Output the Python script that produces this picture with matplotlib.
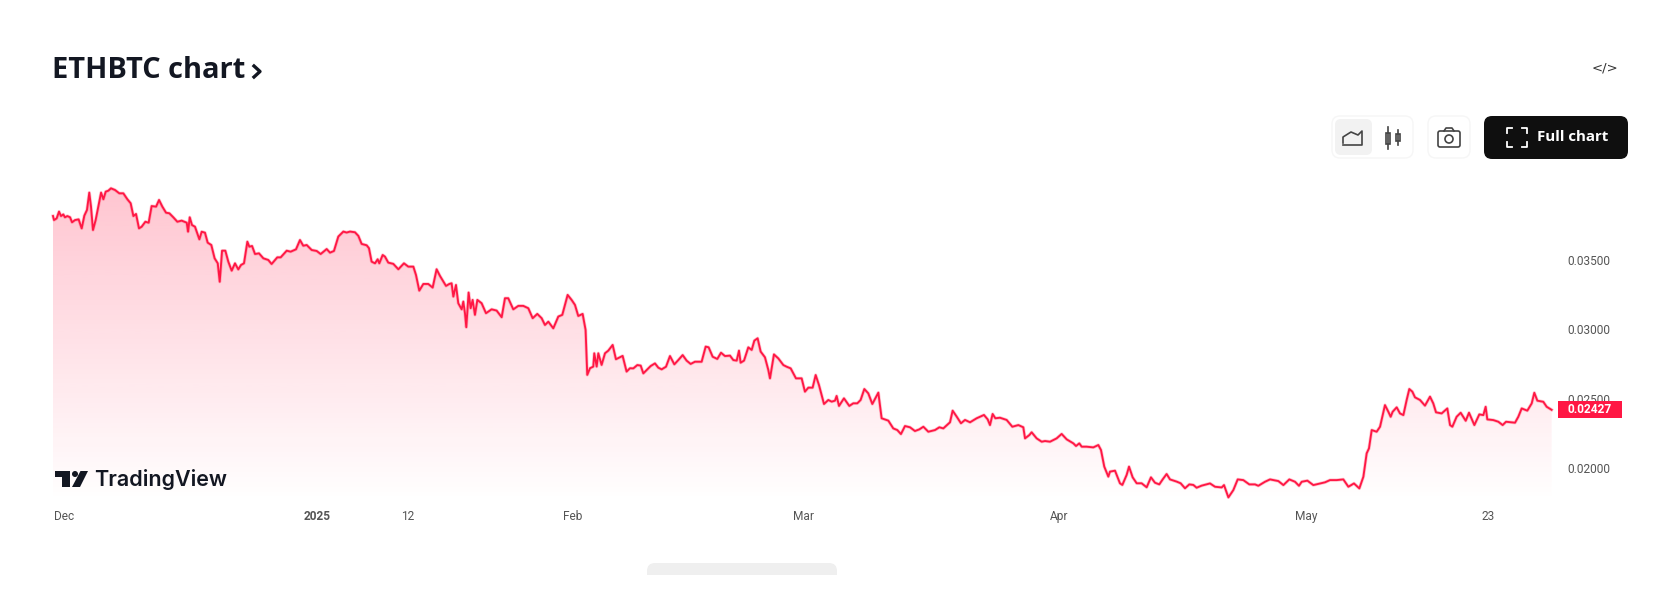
import numpy as np
import matplotlib
matplotlib.use("Agg")
import matplotlib.pyplot as plt
from matplotlib.patches import FancyBboxPatch, Rectangle, Polygon, Circle
from matplotlib.transforms import ScaledTranslation

# days since 30 Nov 2024
days_a = [0, .12, .44, .73, .97, 1.25, 1.45, 1.74, 2.07, 2.31, 2.67, 3.11, 3.48, 3.80, 4.12, 4.40, 4.61, 4.85, 5.17, 5.50, 5.83, 6.11, 6.39, 6.71, 7.03, 7.52, 8.04, 8.53, 9.02, 9.42, 9.75, 10.07, 10.43, 10.75, 11.20, 11.60, 11.96, 12.50, 12.86, 13.26, 13.71, 14.11, 14.59, 15.08, 15.60, 16.22, 16.38, 16.58, 16.86, 17.22, 17.75, 18.03, 18.43, 18.76, 19.20, 19.60, 19.98, 20.22, 20.50, 20.90, 21.26, 21.67, 22.07, 22.47, 22.80, 23.16, 23.57, 23.81, 24.14, 24.50, 24.98, 25.51, 26.11, 26.51, 27.20, 27.61, 28.34, 28.82, 29.47, 29.95, 30.35, 30.77, 31.37, 31.98, 32.46, 33.19, 33.59, 34.07]
price_a = [3825, 3796, 3808, 3857, 3825, 3837, 3816, 3825, 3816, 3780, 3796, 3801, 3736, 3828, 3869, 3994, 3893, 3724, 3796, 3893, 3994, 3946, 4001, 4008, 4025, 4013, 3989, 3989, 3946, 3917, 3825, 3840, 3736, 3748, 3784, 3777, 3897, 3893, 3941, 3893, 3849, 3845, 3816, 3784, 3792, 3777, 3712, 3816, 3760, 3748, 3657, 3712, 3705, 3633, 3616, 3520, 3484, 3351, 3575, 3575, 3496, 3431, 3484, 3440, 3472, 3484, 3640, 3604, 3609, 3551, 3556, 3520, 3508, 3479, 3527, 3527, 3575, 3568, 3585, 3652, 3611, 3616, 3580, 3573, 3551, 3587, 3561, 3573]

days_b = [34.60, 35.21, 35.61, 36.02, 36.62, 37.03, 37.43, 38.04, 38.32, 38.64, 39.05, 39.37, 39.57, 39.98, 40.26, 40.66, 41.27, 41.88, 42.56, 43.09, 43.70, 44.02, 44.42, 44.91, 45.51, 46.04, 46.52, 46.93, 47.66, 48.06, 48.34, 48.55, 48.87, 49.15, 49.56, 49.76, 49.96, 50.12, 50.40, 50.65, 50.89, 51.17, 51.46, 51.98, 52.51, 53.19, 53.80, 54.41, 54.81, 55.21, 55.82, 56.43, 57.03, 57.64, 58.17, 58.73, 59.26, 59.66, 60.07, 60.67, 61.28, 61.76, 62.41, 62.89, 63.30, 63.70, 64.23, 64.59, 64.79, 65.12, 65.52, 65.64, 65.93, 66.13, 66.53, 66.94, 67.34, 67.87, 68.27, 69.08, 69.56, 69.97]
price_b = [3677, 3713, 3706, 3713, 3708, 3682, 3624, 3614, 3593, 3496, 3484, 3513, 3484, 3544, 3532, 3489, 3480, 3441, 3484, 3460, 3460, 3400, 3287, 3335, 3335, 3309, 3441, 3393, 3321, 3335, 3340, 3244, 3328, 3196, 3152, 3208, 3124, 3023, 3273, 3160, 3220, 3112, 3220, 3196, 3124, 3152, 3143, 3095, 3232, 3232, 3152, 3177, 3177, 3160, 3088, 3119, 3088, 3039, 3063, 3015, 3100, 3112, 3256, 3220, 3184, 3104, 3119, 3003, 2679, 2727, 2739, 2835, 2739, 2835, 2751, 2835, 2854, 2895, 2792, 2816, 2703, 2727]

days_c = [70.38, 70.86, 71.27, 71.59, 71.99, 72.48, 73.0, 73.41, 73.81, 74.34, 74.82, 75.35, 75.83, 76.36, 76.84, 77.33, 77.85, 78.66, 79.15, 79.51, 80.0, 80.56, 81.01, 81.49, 82.1, 82.5, 82.91, 83.19, 83.39, 83.8, 84.32, 84.73, 85.05, 85.45, 85.82, 86.34, 86.75, 86.95, 87.43, 87.96, 88.57, 88.97, 89.46, 90.1, 90.79, 91.19, 91.6, 92.12, 92.49, 92.89, 93.5, 94.02, 94.43, 94.83, 95.03, 95.32, 95.92, 96.57, 97.05, 97.54, 97.94, 98.39, 98.87, 99.36, 100.09, 100.49, 100.89, 101.3, 101.9, 102.39, 102.83, 103.32, 103.93, 104.53]
price_c = [2726, 2750, 2746, 2690, 2714, 2743, 2762, 2731, 2719, 2738, 2815, 2755, 2786, 2822, 2782, 2758, 2774, 2774, 2883, 2878, 2810, 2794, 2839, 2815, 2818, 2786, 2782, 2854, 2767, 2782, 2878, 2859, 2926, 2943, 2847, 2806, 2714, 2654, 2827, 2798, 2750, 2738, 2726, 2654, 2654, 2558, 2587, 2587, 2678, 2606, 2469, 2498, 2486, 2493, 2527, 2455, 2510, 2455, 2474, 2474, 2498, 2577, 2546, 2469, 2551, 2366, 2358, 2349, 2293, 2281, 2252, 2310, 2301, 2274]

days_d = [105.06, 105.55, 106.15, 106.96, 107.49, 107.97, 108.78, 109.1, 109.59, 110.11, 110.6, 111.21, 112.01, 112.9, 113.35, 113.63, 113.95, 114.28, 114.84, 115.65, 116.34, 117.07, 117.67, 117.88, 118.4, 118.68, 119.29, 119.9, 120.3, 120.91, 121.71, 122.32, 122.93, 123.74, 124.06, 124.46, 124.75, 125.35, 126.16, 126.77, 127.09, 127.49, 127.98, 128.18, 128.79, 129.39, 129.68, 130.2, 130.49, 130.93, 131.42, 132.02, 132.63, 133.15, 133.64, 134.16, 134.57, 135.05, 135.46, 136.27, 136.75, 137.28, 137.8, 138.29, 138.69, 139.3]
price_d = [2286, 2305, 2269, 2281, 2301, 2293, 2337, 2421, 2378, 2330, 2354, 2337, 2366, 2390, 2358, 2317, 2397, 2366, 2370, 2354, 2305, 2317, 2301, 2221, 2245, 2265, 2221, 2197, 2202, 2197, 2221, 2253, 2214, 2185, 2166, 2185, 2161, 2161, 2156, 2173, 2137, 2017, 1945, 1981, 1988, 1897, 1885, 1957, 2017, 1940, 1897, 1897, 1868, 1940, 1901, 1889, 1925, 1964, 1925, 1909, 1897, 1861, 1889, 1885, 1865, 1880]

days_e = [140.31, 140.92, 141.73, 142.01, 142.54, 143.14, 143.67, 144.35, 145.08, 145.77, 146.17, 146.98, 147.59, 148.6, 149.21, 149.93, 150.62, 151.1, 151.43, 152.12, 152.84, 154.26, 154.86, 155.67, 156.48, 157.09, 157.77, 158.42, 158.91, 159.31, 159.59, 159.92, 160.52, 160.93, 161.53, 161.94, 162.22, 162.46, 162.95, 163.35, 163.76, 164.16, 164.48, 164.85, 165.17, 165.78, 166.38, 166.99, 167.39, 167.72, 168.4, 169.09, 169.42, 169.7, 170.22, 170.71, 171.32, 171.72, 172.37, 172.97, 173.46, 173.74, 173.94, 174.67, 175.28, 175.8, 176.21, 177.3, 177.7, 178.11, 178.79, 179.32, 179.64, 180.01, 180.73, 181.14, 181.74]
price_e = [1896, 1872, 1867, 1884, 1795, 1848, 1925, 1920, 1889, 1889, 1879, 1908, 1925, 1913, 1884, 1925, 1908, 1879, 1908, 1916, 1884, 1904, 1920, 1920, 1925, 1872, 1896, 1860, 1944, 2113, 2149, 2281, 2269, 2305, 2461, 2413, 2377, 2413, 2445, 2401, 2389, 2498, 2577, 2558, 2517, 2498, 2457, 2522, 2473, 2409, 2401, 2437, 2317, 2305, 2377, 2406, 2348, 2406, 2317, 2394, 2389, 2449, 2358, 2353, 2341, 2317, 2341, 2334, 2377, 2437, 2421, 2473, 2550, 2493, 2485, 2449, 2427]

x_tick_days = [1.3, 32, 43, 63, 91, 122, 152, 174]
x_tick_labels = ["Dec", "2025", "12", "Feb", "Mar", "Apr", "May", "23"]
y_ticks = [0.035, 0.030, 0.025, 0.020]
y_tick_labels = ["0.03500", "0.03000", "0.02500", "0.02000"]
last_price_label = "0.02427"

W, H = 1664, 610
LINE = "#FF1744"
days = np.array(days_a + days_b + days_c + days_d + days_e)
prices = np.array(price_a + price_b + price_c + price_d + price_e) / 1e5

fig = plt.figure(figsize=(W / 100, H / 100), dpi=100, facecolor="white")
L, R, T, B = 53, 1556, 175, 502
ax = fig.add_axes([L / W, 1 - B / H, (R - L) / W, (B - T) / H])
ax.set_facecolor("none")
xlim = (0, 182.27)
ylim = (0.01762, 0.04121)

# gradient area
grad = np.zeros((256, 1, 4))
grad[..., :3] = matplotlib.colors.to_rgb(LINE)
grad[..., 3] = np.linspace(0.26, 0.0, 256)[:, None]
im = ax.imshow(grad, extent=(xlim[0], xlim[1], ylim[0], ylim[1]), aspect="auto",
               origin="upper", zorder=1, interpolation="bilinear")
poly = Polygon(np.column_stack([np.r_[days[0], days, days[-1]],
                                np.r_[ylim[0], prices, ylim[0]]]),
               closed=True, transform=ax.transData, facecolor="none", edgecolor="none")
ax.add_patch(poly)
im.set_clip_path(poly)
# soft halo + core reproduce the slightly blurred line of the screenshot
ax.plot(days, prices, color=LINE, lw=2.4, alpha=0.25, solid_joinstyle="round", zorder=2, clip_on=False)
ax.plot(days, prices, color=LINE, lw=1.35, solid_joinstyle="round", zorder=3, clip_on=False)
ax.set_xlim(xlim)
ax.set_ylim(ylim)

for s in ax.spines.values():
    s.set_visible(False)
ax.yaxis.tick_right()
ax.set_yticks(y_ticks, y_tick_labels, fontfamily="Roboto", fontsize=8.6, color="#555555")
ax.set_xticks(x_tick_days, x_tick_labels, fontfamily="Roboto", fontsize=8.6, color="#555555")
ax.tick_params(axis="both", length=0)
ax.tick_params(axis="y", pad=8)
ax.tick_params(axis="x", pad=6)
ax.get_xticklabels()[1].set_fontweight("bold")
for lab in ax.get_yticklabels():
    lab.set_transform(lab.get_transform() + ScaledTranslation(0, 1 / 100, fig.dpi_scale_trans))

# last price tag
tr = ax.get_yaxis_transform()
tag_x0 = (1558 - L) / (R - L)
tag_w = 64 / (R - L)
tag_h = 17 * (ylim[1] - ylim[0]) / (B - T)
ax.add_patch(Rectangle((tag_x0, prices[-1] - tag_h / 2), tag_w, tag_h, transform=tr,
                       facecolor="#FF1744", edgecolor="none", clip_on=False, zorder=5))
ax.text(tag_x0 + tag_w / 2, prices[-1], last_price_label, transform=tr, color="white",
        ha="center", va="center", fontfamily="Roboto", fontsize=8.6, fontweight="bold",
        clip_on=False, zorder=6)

# page chrome in pixel coordinates
ui = fig.add_axes([0, 0, 1, 1], zorder=10)
ui.set_xlim(0, W)
ui.set_ylim(H, 0)
ui.axis("off")
ui.patch.set_alpha(0)

ui.text(52, 78, "ETHBTC chart", fontfamily="Open Sans", fontweight="bold", fontsize=20.9,
        color="#131722", va="baseline", ha="left")
ui.plot([254, 260, 254], [66, 71.5, 77], color="#131722", lw=2.4)
ui.text(1605, 68, "</>", fontfamily="DejaVu Sans", fontsize=9.5, color="#333333", ha="center", va="center")


def box(x0, y0, x1, y1, r, fc, ec="none", lw=1):
    ui.add_patch(FancyBboxPatch((x0 + r, y0 + r), x1 - x0 - 2 * r, y1 - y0 - 2 * r,
                                boxstyle=f"round,pad={r},rounding_size={r}",
                                facecolor=fc, edgecolor=ec, lw=lw))


box(1332, 116, 1413, 158, 8, "white", "#f6f6f6", 1)
box(1335, 119, 1372, 155, 6, "#f2f2f2")
box(1428, 116, 1470, 158, 8, "white", "#f6f6f6", 1)
box(1484, 116, 1628, 159, 8, "#0f0f0f")
ui.text(1573, 137, "Full chart", color="white", fontfamily="Open Sans", fontweight="bold",
        fontsize=10.8, ha="center", va="center")

ic = "#444444"
# area icon
ui.plot([1343, 1343, 1351, 1358, 1362, 1362, 1343],
        [143, 137, 132, 135, 131, 145, 145], color=ic, lw=1.2)
# candle icon
ui.add_patch(Rectangle((1386, 133), 4, 11, facecolor="none", edgecolor=ic, lw=1.2))
ui.plot([1388, 1388], [127, 149], color=ic, lw=1.2)
ui.add_patch(Rectangle((1396, 134), 4, 7, facecolor="none", edgecolor=ic, lw=1.2))
ui.plot([1398, 1398], [130, 145], color=ic, lw=1.2)
# camera icon
box(1438, 131, 1460, 147, 2, "none", ic, 1.2)
ui.plot([1444, 1446, 1452, 1454], [131, 128, 128, 131], color=ic, lw=1.2)
ui.add_patch(Circle((1449, 139), 4, facecolor="none", edgecolor=ic, lw=1.2))
# full-screen icon
for sx, sy in [(1507, 128), (1527, 128), (1507, 147), (1527, 147)]:
    dx = 5 if sx < 1515 else -5
    dy = 5 if sy < 137 else -5
    ui.plot([sx + dx, sx, sx], [sy, sy, sy + dy], color="white", lw=1.3)

# TradingView logo
lg = "#131722"
ui.add_patch(Polygon([(55, 471), (70, 471), (70, 487), (62, 487), (62, 477), (55, 477)], facecolor=lg))
ui.add_patch(Circle((75, 474), 3, facecolor=lg))
ui.add_patch(Polygon([(80.5, 471), (88, 471), (80, 487), (72, 487)], facecolor=lg))
ui.text(94, 479, "TradingView", color=lg, fontfamily="Inter", fontweight="semibold",
        fontsize=15.5, ha="left", va="center")

# grey pill cut off at the bottom of the page
ui.add_patch(FancyBboxPatch((655, 571), 174, 20, boxstyle="round,pad=8,rounding_size=8",
                            facecolor="#efefef", edgecolor="none", clip_on=True))
ui.add_patch(Rectangle((640, 575), 210, 35, facecolor="white", edgecolor="none", zorder=4))

fig.savefig("out.png", dpi=100)
